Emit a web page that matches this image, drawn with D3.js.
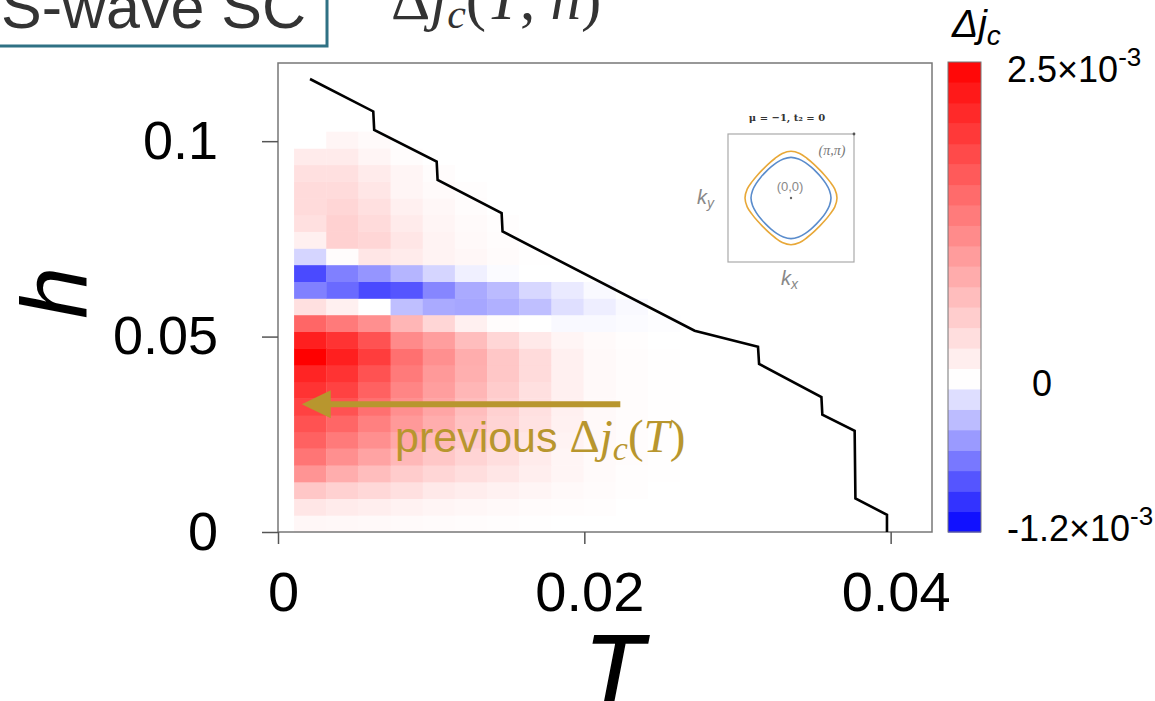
<!DOCTYPE html>
<html>
<head>
<meta charset="utf-8">
<script src="https://cdn.jsdelivr.net/npm/d3@7/dist/d3.min.js"></script>
<style>
  body { margin: 0; background: #fff; }
  svg { display: block; }
</style>
</head>
<body>
<svg id="chart" width="1155" height="701"></svg>
<script>
// cell centres of the (T, h) grid
const tCells = [0.0021, 0.0042, 0.0063, 0.0084, 0.0105, 0.0126, 0.0147, 0.0168, 0.0189, 0.0210, 0.0231, 0.0252]
const hCells = [0.00214, 0.0064, 0.01068, 0.01495, 0.0192, 0.0235, 0.0278, 0.0320, 0.0363, 0.0406, 0.0449, 0.0491,
                0.0534, 0.0577, 0.0619, 0.0662, 0.0705, 0.0747, 0.0790, 0.0833, 0.0875, 0.0918, 0.0961, 0.1003]

// Δj_c in units of 1e-3, one row per h (lowest h first), one value per T
const djRows = [
  [0.08, 0.07, 0.06, 0.05, 0.04, 0.03, 0.02, 0.01, 0, 0, 0, 0],
  [0.25, 0.2, 0.17, 0.13, 0.1, 0.08, 0.06, 0.04, 0.03, 0.02, 0, 0],
  [0.55, 0.45, 0.38, 0.3, 0.22, 0.18, 0.14, 0.1, 0.06, 0.04, 0.02, 0],
  [1.05, 0.8, 0.65, 0.5, 0.4, 0.32, 0.25, 0.17, 0.1, 0.05, 0.02, 0.01],
  [1.35, 1.1, 0.9, 0.7, 0.55, 0.42, 0.32, 0.2, 0.1, 0.05, 0.03, 0.01],
  [1.55, 1.3, 1.1, 0.85, 0.68, 0.5, 0.38, 0.25, 0.12, 0.06, 0.03, 0.01],
  [1.7, 1.5, 1.25, 1.0, 0.8, 0.6, 0.42, 0.28, 0.14, 0.06, 0.03, 0.01],
  [1.85, 1.7, 1.4, 1.1, 0.88, 0.65, 0.45, 0.3, 0.15, 0.06, 0.03, 0.01],
  [2.0, 1.85, 1.55, 1.2, 0.95, 0.72, 0.5, 0.3, 0.15, 0.06, 0.03, 0.01],
  [2.15, 2.0, 1.7, 1.3, 1.0, 0.78, 0.55, 0.35, 0.15, 0.06, 0.03, 0.01],
  [2.5, 2.2, 1.9, 1.4, 1.1, 0.8, 0.55, 0.35, 0.15, 0.06, 0.03, 0.01],
  [2.2, 2.0, 1.7, 1.15, 0.95, 0.65, 0.4, 0.22, 0.1, 0.05, 0.02, 0],
  [1.5, 1.3, 1.1, 0.72, 0.4, 0.15, 0.03, 0, -0.03, -0.03, -0.02, -0.01],
  [0.3, 0.15, 0, -0.3, -0.4, -0.42, -0.37, -0.3, -0.15, -0.08, -0.03, 0],
  [-0.6, -0.7, -0.85, -0.8, -0.57, -0.4, -0.32, -0.19, -0.1, -0.03, 0, 0],
  [-0.85, -0.6, -0.5, -0.35, -0.2, -0.07, -0.02, 0, 0, 0, 0, 0],
  [-0.2, 0.03, 0.25, 0.2, 0.12, 0.08, 0.04, 0.01, 0, 0, 0, 0],
  [0.15, 0.45, 0.4, 0.25, 0.12, 0.06, 0.03, 0, 0, 0, 0, 0],
  [0.3, 0.45, 0.35, 0.2, 0.1, 0.05, 0.02, 0, 0, 0, 0, 0],
  [0.35, 0.4, 0.3, 0.15, 0.08, 0.03, 0, 0, 0, 0, 0, 0],
  [0.35, 0.35, 0.25, 0.1, 0.05, 0.02, 0, 0, 0, 0, 0, 0],
  [0.3, 0.3, 0.2, 0.1, 0.03, 0, 0, 0, 0, 0, 0, 0],
  [0.2, 0.2, 0.1, 0.03, 0, 0, 0, 0, 0, 0, 0, 0],
  [0, 0.1, 0.05, 0, 0, 0, 0, 0, 0, 0, 0, 0]
]

// phase boundary (black line)
const tcT = [0.00209, 0.00622, 0.00628, 0.01036, 0.01042, 0.01460, 0.01466, 0.0272, 0.03134, 0.03141, 0.03548, 0.03554, 0.03765, 0.0377, 0.03976, 0.03976]
const tcH = [0.1159, 0.1076, 0.1029, 0.0948, 0.0901, 0.0816, 0.0769, 0.0515, 0.0474, 0.0430, 0.0345, 0.0300, 0.0259, 0.0086, 0.0044, 0.0]

const xTicks = [0, 0.02, 0.04]
const yTicks = [0, 0.05, 0.1]
const cbDomain = [-1.2, 0, 2.5]

// inset: Fermi surface radii (units of π) at angles 0..45 deg
const fsAngles = [0, 11.25, 22.5, 33.75, 45]
const fsOuter = [0.73, 0.709, 0.668, 0.642, 0.632]
const fsInner = [0.635, 0.621, 0.597, 0.579, 0.572]

const svg = d3.select("#chart")
svg.append("rect").attr("width", 1155).attr("height", 701).attr("fill", "#fff")

const x = d3.scaleLinear().domain([0, 0.0427]).range([278, 932])
const y = d3.scaleLinear().domain([0, 0.12]).range([532, 63])
const color = d3.scaleLinear().domain(cbDomain).range(["#0000ff", "#ffffff", "#ff0000"]).clamp(true)

const dt = tCells[1] - tCells[0]
const dh = hCells[1] - hCells[0]

// heat map cells
let cells = []
djRows.forEach(function (row, k) {
    row.forEach(function (v, i) {
        cells.push({ t: tCells[i], h: hCells[k], v: v })
    })
})
svg.append("g")
    .selectAll("rect")
    .data(cells)
    .enter()
    .append("rect")
    .attr("x", d => x(d.t - dt / 2))
    .attr("y", d => y(d.h + dh / 2))
    .attr("width", x(dt) - x(0) + 0.4)
    .attr("height", y(0) - y(dh) + 0.4)
    .attr("fill", d => color(d.v))

// frame
svg.append("rect")
    .attr("x", x(0)).attr("y", y(0.12))
    .attr("width", x(0.0427) - x(0)).attr("height", y(0) - y(0.12))
    .attr("fill", "none").attr("stroke", "#777").attr("stroke-width", 1.5)

// axes
svg.append("g")
    .attr("class", "yaxis")
    .attr("transform", "translate(" + x(0) + ",0)")
    .call(d3.axisLeft(y).tickValues(yTicks).tickSize(16).tickSizeOuter(0).tickPadding(44)
        .tickFormat(d => d === 0 ? "0" : String(d)))
svg.append("g")
    .attr("class", "xaxis")
    .attr("transform", "translate(0," + y(0) + ")")
    .call(d3.axisBottom(x).tickValues(xTicks).tickSize(12).tickSizeOuter(0).tickPadding(27)
        .tickFormat(d => d === 0 ? "0" : String(d)))
svg.selectAll(".domain").remove()
svg.selectAll(".tick line").attr("stroke", "#555").attr("stroke-width", 1.5)
svg.selectAll(".tick text")
    .attr("font-family", "Liberation Sans, Arial, sans-serif")
    .attr("font-size", 54)
    .attr("fill", "#000")
svg.selectAll(".xaxis .tick text").attr("font-size", 56).attr("dx", 5)

// phase boundary
svg.append("path")
    .datum(d3.zip(tcT, tcH))
    .attr("fill", "none")
    .attr("stroke", "#000")
    .attr("stroke-width", 2.6)
    .attr("stroke-linejoin", "miter")
    .attr("d", d3.line().x(d => x(d[0])).y(d => y(d[1])))

// axis titles
svg.append("text")
    .attr("x", 614).attr("y", 702)
    .attr("text-anchor", "middle")
    .attr("font-family", "Liberation Sans, Arial, sans-serif")
    .attr("font-style", "italic")
    .attr("font-size", 96)
    .attr("stroke", "#000").attr("stroke-width", 1.5)
    .text("T")
svg.append("text")
    .attr("transform", "translate(86,293) rotate(-90)")
    .attr("text-anchor", "middle")
    .attr("font-family", "Liberation Sans, Arial, sans-serif")
    .attr("font-style", "italic")
    .attr("font-size", 93)
    .text("h")

// gold annotation arrow
const gold = "#b8962e"
const arrowH = 0.0327, arrowT0 = 0.02235, arrowT1 = 0.00155
svg.append("line")
    .attr("x1", x(arrowT0)).attr("y1", y(arrowH))
    .attr("x2", x(arrowT1) + 24).attr("y2", y(arrowH))
    .attr("stroke", gold).attr("stroke-width", 6)
svg.append("path")
    .attr("d", "M" + x(arrowT1) + "," + y(arrowH) + "L" + (x(arrowT1) + 29) + "," + (y(arrowH) - 14)
        + "L" + (x(arrowT1) + 29) + "," + (y(arrowH) + 14) + "Z")
    .attr("fill", gold)
const prev = svg.append("text")
    .attr("x", 395).attr("y", 452)
    .attr("fill", gold)
    .attr("font-size", 47)
    .attr("font-family", "Liberation Serif, serif")
prev.append("tspan").attr("font-family", "Liberation Sans, Arial, sans-serif").attr("font-size", 43).text("previous ")
prev.append("tspan").text("Δ")
prev.append("tspan").attr("font-style", "italic").text("j")
prev.append("tspan").attr("font-style", "italic").attr("font-size", 34).attr("dy", 8).text("c")
prev.append("tspan").attr("dy", -8).text("(")
prev.append("tspan").attr("font-style", "italic").text("T")
prev.append("tspan").text(")")

// header
svg.append("rect")
    .attr("x", -10).attr("y", -10).attr("width", 337).attr("height", 56)
    .attr("fill", "none").attr("stroke", "#2f7184").attr("stroke-width", 3)
svg.append("text")
    .attr("x", 1).attr("y", 28)
    .attr("font-family", "Liberation Sans, Arial, sans-serif")
    .attr("font-size", 61).attr("fill", "#333")
    .text("S-wave SC")
const head = svg.append("text")
    .attr("x", 391).attr("y", 19)
    .attr("font-family", "Liberation Serif, serif")
    .attr("font-size", 61).attr("fill", "#333")
head.append("tspan").text("Δ")
head.append("tspan").attr("font-style", "italic").text("j")
head.append("tspan").attr("font-style", "italic").attr("font-size", 42).attr("dy", 9).text("c")
head.append("tspan").attr("dy", -9).text("(")
head.append("tspan").attr("font-style", "italic").text("T")
head.append("tspan").text(", ")
head.append("tspan").attr("font-style", "italic").text("h")
head.append("tspan").text(")")

// colour bar
const cb = d3.scaleLinear().domain([cbDomain[0], cbDomain[2]]).range([532, 62])
const nBands = 23
const bandStep = (cbDomain[2] - cbDomain[0]) / nBands
const bands = d3.range(nBands).map(i => cbDomain[0] + i * bandStep)
svg.append("g")
    .selectAll("rect")
    .data(bands)
    .enter()
    .append("rect")
    .attr("x", 948).attr("width", 33)
    .attr("y", d => cb(d + bandStep))
    .attr("height", cb(0) - cb(bandStep) + 0.5)
    .attr("fill", d => color(d + bandStep / 2))
svg.append("rect")
    .attr("x", 948).attr("y", cb(cbDomain[2])).attr("width", 33).attr("height", cb(cbDomain[0]) - cb(cbDomain[2]))
    .attr("fill", "none").attr("stroke", "#777").attr("stroke-width", 1)

function cbLabel(yPos, mant) {
    const t = svg.append("text")
        .attr("x", 1007).attr("y", yPos)
        .attr("font-family", "Liberation Sans, Arial, sans-serif")
        .attr("font-size", 36).attr("fill", "#000")
    t.append("tspan").text(mant + "×10")
    t.append("tspan").attr("font-size", 26).attr("dy", -16).text("-3")
}
cbLabel(82, "2.5")
cbLabel(541, "-1.2")
svg.append("text")
    .attr("x", 1042).attr("y", cb(0) + 16)
    .attr("text-anchor", "middle")
    .attr("font-family", "Liberation Sans, Arial, sans-serif")
    .attr("font-size", 36).attr("fill", "#000")
    .text("0")
const cbt = svg.append("text")
    .attr("x", 952).attr("y", 37)
    .attr("font-family", "Liberation Sans, Arial, sans-serif")
    .attr("font-style", "italic")
    .attr("font-size", 39).attr("fill", "#000")
cbt.append("tspan").text("Δj")
cbt.append("tspan").attr("font-size", 28).attr("dy", 8).text("c")

// inset: Fermi surfaces in the Brillouin zone
const inset = svg.append("g")
const k = d3.scaleLinear().domain([-1, 1]).range([728, 854])
const ky = d3.scaleLinear().domain([-1, 1]).range([262, 134])
inset.append("rect")
    .attr("x", k(-1)).attr("y", ky(1)).attr("width", k(1) - k(-1)).attr("height", ky(-1) - ky(1))
    .attr("fill", "none").attr("stroke", "#aaa").attr("stroke-width", 1.2)

function fsPoints(radii) {
    let pts = []
    for (let q = 0; q < 8; q++) {
        let idx = q % 2 === 0 ? [0, 1, 2, 3] : [4, 3, 2, 1]
        idx.forEach(function (j) {
            let a = q % 2 === 0 ? fsAngles[j] : 45 - fsAngles[j]
            let ang = (q * 45 + a) * Math.PI / 180
            pts.push([radii[j] * Math.cos(ang), radii[j] * Math.sin(ang)])
        })
    }
    return pts
}
const fsLine = d3.line().x(d => k(d[0])).y(d => ky(d[1])).curve(d3.curveCardinalClosed)
inset.append("path").attr("d", fsLine(fsPoints(fsOuter)))
    .attr("fill", "none").attr("stroke", "#e8a838").attr("stroke-width", 1.6)
inset.append("path").attr("d", fsLine(fsPoints(fsInner)))
    .attr("fill", "none").attr("stroke", "#5a8ccc").attr("stroke-width", 1.6)
inset.append("circle").attr("cx", k(0)).attr("cy", ky(0)).attr("r", 1.2).attr("fill", "#666")
inset.append("circle").attr("cx", k(1)).attr("cy", ky(1)).attr("r", 1.4).attr("fill", "#555")
inset.append("text")
    .attr("x", 787).attr("y", 121).attr("text-anchor", "middle")
    .attr("font-family", "DejaVu Serif, serif").attr("font-weight", "bold")
    .attr("font-size", 10).attr("fill", "#333")
    .text("μ = −1, t₂ = 0")
inset.append("text")
    .attr("x", 832).attr("y", 155).attr("text-anchor", "middle")
    .attr("font-family", "Liberation Serif, serif").attr("font-style", "italic")
    .attr("font-size", 14).attr("fill", "#777")
    .text("(π,π)")
inset.append("text")
    .attr("x", 790).attr("y", 191).attr("text-anchor", "middle")
    .attr("font-family", "Liberation Sans, Arial, sans-serif")
    .attr("font-size", 13).attr("fill", "#888")
    .text("(0,0)")
const kyl = inset.append("text")
    .attr("x", 697).attr("y", 204)
    .attr("font-family", "Liberation Sans, Arial, sans-serif").attr("font-style", "italic")
    .attr("font-size", 20).attr("fill", "#888")
kyl.append("tspan").text("k")
kyl.append("tspan").attr("font-size", 14).attr("dy", 4).text("y")
const kxl = inset.append("text")
    .attr("x", 781).attr("y", 285)
    .attr("font-family", "Liberation Sans, Arial, sans-serif").attr("font-style", "italic")
    .attr("font-size", 20).attr("fill", "#888")
kxl.append("tspan").text("k")
kxl.append("tspan").attr("font-size", 14).attr("dy", 4).text("x")
</script>
</body>
</html>
